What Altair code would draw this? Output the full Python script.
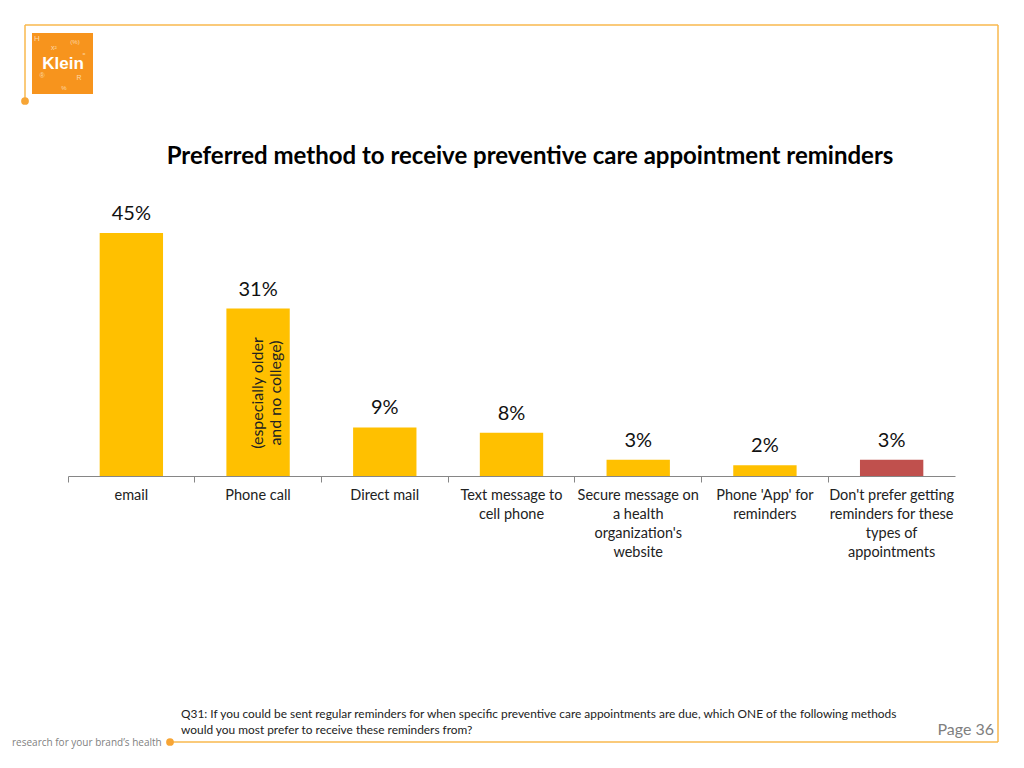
import altair as alt
import pandas as pd

categories = ["email", "Phone call", "Direct mail", "Text message to\ncell phone",
              "Secure message on\na health\norganization's\nwebsite",
              "Phone 'App' for\nreminders",
              "Don't prefer getting\nreminders for these\ntypes of\nappointments"]
keys = ["c1", "c2", "c3", "c4", "c5", "c6", "c7"]
values = [45, 31, 9, 8, 3, 2, 3]
labels = ["45%", "31%", "9%", "8%", "3%", "2%", "3%"]
colors = ["#FFC000", "#FFC000", "#FFC000", "#FFC000", "#FFC000", "#FFC000", "#C0504D"]

title_text = "Preferred method to receive preventive care appointment reminders"
note_lines = ["Q31: If you could be sent regular reminders for when specific preventive care appointments are due, which ONE of the following methods",
              "would you most prefer to receive these reminders from?"]
annotation = "(especially older\nand no college)"

df = pd.DataFrame({"key": keys, "cat": categories, "value": values, "label": labels, "color": colors})

FONT = "Lato"
W, H = 887, 270

xs = alt.X("key:N", sort=keys,
           scale=alt.Scale(paddingInner=0.5, paddingOuter=0.25),
           axis=alt.Axis(title=None, labels=False, bandPosition=-0.5, tickSize=6,
                         domainColor="#868686", tickColor="#868686", grid=False))
ys = alt.Y("value:Q", scale=alt.Scale(domain=[0, 50], nice=False), axis=None)

base = alt.Chart(df)
bars = base.mark_bar().encode(x=xs, y=ys, color=alt.Color("color:N", scale=None))
vals = base.mark_text(dy=-19, baseline="middle", fontSize=20, font=FONT, color="#111111").encode(
    x=alt.X("key:N", sort=keys), y="value:Q", text="label:N")
xlab = base.mark_text(baseline="middle", fontSize=14.5, font=FONT, lineHeight=19, lineBreak="\n",
                      color="#222222").encode(
    x=alt.X("key:N", sort=keys), y=alt.value(290), text="cat:N")

ann_df = pd.DataFrame({"key": ["c2"], "t": [annotation]})
ann = alt.Chart(ann_df).mark_text(angle=270, baseline="middle", align="center", fontSize=16,
                                  font=FONT, lineHeight=18, lineBreak="\n", color="#222222").encode(
    x=alt.X("key:N", sort=keys), y=alt.value(187), text="t:N")

one = pd.DataFrame({"d": [0]})
frame_col = "#F9B94E"
def rule(x, y, x2=None, y2=None):
    enc = dict(x=alt.value(x), y=alt.value(y))
    if x2 is not None:
        enc["x2"] = alt.value(x2)
    if y2 is not None:
        enc["y2"] = alt.value(y2)
    return alt.Chart(one).mark_rule(color=frame_col, strokeWidth=1.5).encode(**enc)

frame = [
    rule(-43, -181, x2=930),
    rule(930, -181, y2=536),
    rule(102, 536, x2=930),
    rule(-43, -181, y2=-105),
]
dots = alt.Chart(one).mark_point(filled=True, size=60, color="#F7A535", opacity=1).encode(
    x=alt.value(102), y=alt.value(536))
dots2 = alt.Chart(one).mark_point(filled=True, size=60, color="#F7A535", opacity=1).encode(
    x=alt.value(-43), y=alt.value(-105))

logo = alt.Chart(one).mark_rect(color="#F7941D").encode(
    x=alt.value(-36), x2=alt.value(25), y=alt.value(-173), y2=alt.value(-112))
logo_txt = alt.Chart(one).mark_text(text="Klein", font="Liberation Sans", fontWeight="bold", fontSize=17,
                                    color="white", baseline="middle").encode(x=alt.value(-5), y=alt.value(-142))
def small(t, x, y, s=7):
    return alt.Chart(one).mark_text(text=t, font="Liberation Sans", fontSize=s, color="#FDD9A8",
                                    baseline="middle").encode(x=alt.value(x), y=alt.value(y))
logo_bits = [small("H", -31, -167, 8), small("x²", -14, -158), small("(%)", 7, -164, 6),
             small("®", -26, -130), small("R", 11, -128), small("%", -4, -118, 6), small("=", 16, -152, 5)]

title = alt.Chart(one).mark_text(text=title_text, font=FONT, fontWeight="bold", fontSize=24,
                                 color="#000000", baseline="middle").encode(x=alt.value(462), y=alt.value(-49))
note = alt.Chart(one).mark_text(text=note_lines, font=FONT, fontSize=11.9, color="#222222",
                                align="left", baseline="middle", lineHeight=16).encode(
    x=alt.value(113), y=alt.value(508))
page = alt.Chart(one).mark_text(text="Page 36", font=FONT, fontSize=16, color="#7F7F7F",
                                align="right", baseline="middle").encode(x=alt.value(926), y=alt.value(524))
tag = alt.Chart(one).mark_text(text="research for your brand\u2019s health", font="Open Sans", fontSize=10,
                               color="#7F7F7F", align="left", baseline="middle").encode(
    x=alt.value(-56), y=alt.value(537))

chart = alt.layer(bars, vals, xlab, ann, *frame, dots, dots2, logo, logo_txt, *logo_bits,
                  title, note, page, tag).properties(
    width=W, height=H,
    background="white",
    autosize=alt.AutoSizeParams(type="none"),
    padding={"left": 60, "top": 198, "right": 61, "bottom": 284},
).configure_view(strokeWidth=0, stroke="transparent")

chart.save("out.html", embed_options={"renderer": "svg", "actions": False})
